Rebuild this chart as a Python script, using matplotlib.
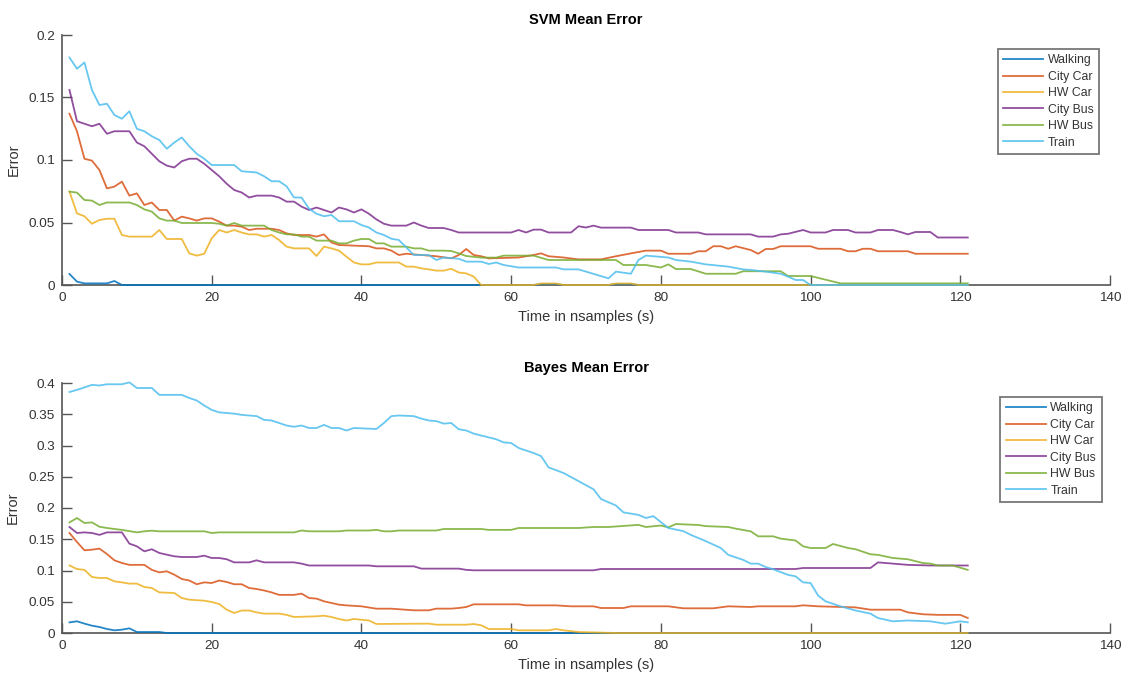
import matplotlib
matplotlib.use("Agg")
import matplotlib.pyplot as plt
from matplotlib.ticker import FuncFormatter, MultipleLocator

plt.rcParams['font.family'] = ['Liberation Sans', 'DejaVu Sans']

labels = ["Walking", "City Car", "HW Car", "City Bus", "HW Bus", "Train"]
colors = ["#0072BD", "#D95319", "#EDB120", "#7E2F8E", "#77AC30", "#4DBEEE"]

# ---------------- SVM mean error (sample index, error) ----------------
svm_walking_x = [1, 2, 3, 6, 7, 8, 63, 64, 66, 67, 73, 74, 76, 77, 121]
svm_walking_y = [0.0088, 0.0027, 0.0013, 0.0013, 0.0032, 0, 0, 0.0008, 0.0008, 0, 0, 0.0008, 0.0008, 0, 0]

svm_citycar_x = [1, 2, 3, 4, 5, 6, 7, 8, 9, 10, 11, 12, 13, 14, 15, 16, 17, 18, 19, 20,
                 21, 22, 23, 24, 25, 26, 28, 29, 30, 31, 33, 34, 35, 36, 37, 41, 42, 43, 44, 45,
                 46, 50, 52, 53, 54, 55, 56, 57, 61, 63, 64, 65, 67, 69, 72, 74, 76, 78, 80, 81,
                 84, 85, 86, 87, 88, 89, 90, 92, 93, 94, 95, 96, 100, 101, 104, 105, 106, 107, 108, 109,
                 113, 114, 121]
svm_citycar_y = [0.137, 0.123, 0.101, 0.0995, 0.092, 0.0773, 0.0787, 0.0827, 0.0715, 0.0733, 0.064, 0.066, 0.060, 0.060, 0.0515, 0.0547, 0.0533, 0.0515, 0.0533, 0.0533,
                 0.0507, 0.0475, 0.0475, 0.0467, 0.044, 0.045, 0.045, 0.044, 0.0413, 0.040, 0.040, 0.0387, 0.0405, 0.034, 0.032, 0.031, 0.0293, 0.0293, 0.0275, 0.024,
                 0.025, 0.023, 0.0213, 0.024, 0.0288, 0.024, 0.023, 0.0213, 0.022, 0.024, 0.0253, 0.023, 0.022, 0.0205, 0.0205, 0.023, 0.0253, 0.0275, 0.0275, 0.025,
                 0.025, 0.027, 0.027, 0.031, 0.031, 0.029, 0.031, 0.028, 0.025, 0.0288, 0.0288, 0.031, 0.031, 0.029, 0.029, 0.027, 0.027, 0.029, 0.029, 0.027,
                 0.027, 0.025, 0.025]

svm_hwcar_x = [1, 2, 3, 4, 5, 6, 7, 8, 9, 12, 13, 14, 16, 17, 18, 19, 20, 21, 22, 23,
               24, 25, 26, 27, 28, 29, 30, 31, 33, 34, 35, 36, 37, 38, 39, 40, 41, 42, 45, 46,
               47, 48, 49, 50, 51, 52, 53, 54, 55, 56, 63, 64, 66, 67, 73, 74, 76, 77, 121]
svm_hwcar_y = [0.0747, 0.0573, 0.055, 0.049, 0.052, 0.053, 0.053, 0.040, 0.0387, 0.0387, 0.044, 0.0368, 0.0368, 0.0253, 0.0235, 0.025, 0.0373, 0.044, 0.042, 0.044,
               0.042, 0.0405, 0.0405, 0.0387, 0.040, 0.036, 0.0307, 0.0293, 0.0293, 0.0232, 0.0307, 0.0293, 0.0275, 0.0227, 0.018, 0.0165, 0.0165, 0.018, 0.018, 0.0147,
               0.0147, 0.0133, 0.0125, 0.0115, 0.0115, 0.013, 0.010, 0.0093, 0.0067, 0, 0, 0.0012, 0.0012, 0, 0, 0.0012, 0.0012, 0, 0]

svm_citybus_x = [1, 2, 3, 4, 5, 6, 7, 9, 10, 11, 12, 13, 14, 15, 16, 17, 18, 19, 20, 21,
                 22, 23, 24, 25, 26, 28, 29, 30, 31, 32, 33, 34, 35, 36, 37, 38, 39, 40, 41, 42,
                 43, 44, 46, 47, 48, 49, 51, 52, 53, 60, 61, 62, 63, 64, 65, 68, 69, 70, 71, 72,
                 76, 77, 81, 82, 85, 86, 92, 93, 95, 96, 97, 99, 100, 102, 103, 105, 106, 108, 109, 111,
                 112, 113, 114, 116, 117, 121]
svm_citybus_y = [0.156, 0.131, 0.129, 0.127, 0.129, 0.121, 0.123, 0.123, 0.114, 0.111, 0.105, 0.099, 0.0955, 0.094, 0.099, 0.101, 0.101, 0.097, 0.092, 0.087,
                 0.081, 0.076, 0.074, 0.070, 0.0715, 0.0715, 0.070, 0.0667, 0.0667, 0.0627, 0.060, 0.062, 0.060, 0.058, 0.062, 0.0605, 0.058, 0.0605, 0.057, 0.0525,
                 0.049, 0.0475, 0.0475, 0.050, 0.0475, 0.0456, 0.0456, 0.044, 0.042, 0.042, 0.044, 0.042, 0.0443, 0.0443, 0.042, 0.042, 0.047, 0.046, 0.0475, 0.0459,
                 0.0459, 0.044, 0.044, 0.042, 0.042, 0.0405, 0.0405, 0.0387, 0.0387, 0.0405, 0.041, 0.044, 0.042, 0.042, 0.044, 0.044, 0.042, 0.042, 0.044, 0.044,
                 0.0424, 0.0405, 0.0424, 0.0424, 0.038, 0.038]

svm_hwbus_x = [1, 2, 3, 4, 5, 6, 9, 10, 11, 12, 13, 14, 15, 16, 20, 21, 22, 23, 24, 27,
               28, 29, 30, 31, 32, 33, 34, 36, 37, 38, 39, 40, 41, 42, 43, 44, 46, 47, 48, 49,
               51, 52, 53, 54, 56, 58, 59, 63, 65, 74, 75, 78, 80, 81, 82, 84, 86, 90, 91, 96,
               97, 100, 104, 121]
svm_hwbus_y = [0.0747, 0.0739, 0.068, 0.0675, 0.064, 0.066, 0.066, 0.064, 0.0605, 0.0587, 0.0533, 0.0515, 0.0515, 0.0496, 0.0496, 0.049, 0.0475, 0.0496, 0.0475, 0.0475,
               0.044, 0.042, 0.0405, 0.0405, 0.0387, 0.0387, 0.0355, 0.0355, 0.0333, 0.0333, 0.0355, 0.0368, 0.0368, 0.0333, 0.0333, 0.0307, 0.0307, 0.0293, 0.0293, 0.0275,
               0.0275, 0.0272, 0.0253, 0.0232, 0.0219, 0.0219, 0.0235, 0.0235, 0.020, 0.020, 0.016, 0.016, 0.014, 0.0165, 0.0128, 0.0128, 0.009, 0.009, 0.011, 0.011,
               0.0072, 0.0072, 0.0013, 0.0013]

svm_train_x = [1, 2, 3, 4, 5, 6, 7, 8, 9, 10, 11, 12, 13, 14, 15, 16, 17, 18, 19, 20,
               23, 24, 26, 27, 28, 29, 30, 31, 32, 33, 34, 35, 36, 37, 39, 40, 41, 42, 43, 44,
               45, 46, 47, 49, 50, 51, 53, 54, 56, 57, 58, 59, 61, 66, 67, 69, 73, 74, 76, 77,
               78, 79, 81, 82, 84, 86, 89, 91, 92, 94, 96, 97, 98, 99, 100, 121]
svm_train_y = [0.182, 0.173, 0.178, 0.156, 0.144, 0.145, 0.136, 0.133, 0.139, 0.125, 0.123, 0.119, 0.116, 0.109, 0.114, 0.118, 0.111, 0.105, 0.101, 0.096,
               0.096, 0.091, 0.090, 0.087, 0.083, 0.083, 0.079, 0.070, 0.070, 0.061, 0.057, 0.055, 0.056, 0.051, 0.051, 0.048, 0.046, 0.042, 0.040, 0.037,
               0.036, 0.030, 0.024, 0.024, 0.020, 0.022, 0.021, 0.0187, 0.0187, 0.0168, 0.018, 0.016, 0.014, 0.014, 0.0125, 0.0125, 0.0053, 0.0107, 0.009, 0.020,
               0.0235, 0.023, 0.022, 0.020, 0.0187, 0.0165, 0.0147, 0.0125, 0.012, 0.0107, 0.009, 0.0067, 0.004, 0.004, 0, 0]

# ---------------- Bayes mean error (sample index, error) ----------------
bayes_walking_x = [1, 2, 3, 4, 5, 6, 7, 8, 9, 10, 13, 14, 121]
bayes_walking_y = [0.017, 0.0187, 0.015, 0.0117, 0.0096, 0.0064, 0.0043, 0.0053, 0.0075, 0.0016, 0.0016, 0, 0]

bayes_citycar_x = [1, 2, 3, 4, 5, 6, 7, 8, 9, 11, 12, 13, 14, 15, 16, 17, 18, 19, 20, 21,
                   22, 23, 24, 25, 26, 27, 28, 29, 31, 32, 33, 34, 35, 36, 37, 38, 40, 42, 44, 47,
                   49, 50, 52, 53, 54, 55, 61, 62, 66, 68, 71, 72, 75, 76, 81, 83, 87, 89, 92, 93,
                   98, 99, 101, 106, 108, 112, 113, 115, 117, 120, 121]
bayes_citycar_y = [0.160, 0.1456, 0.1323, 0.1333, 0.135, 0.1264, 0.1163, 0.112, 0.109, 0.109, 0.101, 0.097, 0.0987, 0.0933, 0.0864, 0.084, 0.078, 0.081, 0.080, 0.084,
                   0.0816, 0.078, 0.078, 0.072, 0.0704, 0.068, 0.065, 0.061, 0.061, 0.063, 0.056, 0.055, 0.0507, 0.048, 0.0453, 0.0442, 0.0427, 0.0389, 0.0389, 0.0363,
                   0.0363, 0.039, 0.039, 0.040, 0.0416, 0.0459, 0.0459, 0.0442, 0.0442, 0.0427, 0.0427, 0.040, 0.040, 0.0427, 0.0427, 0.0395, 0.0395, 0.0427, 0.0416, 0.0427,
                   0.0427, 0.0443, 0.0427, 0.041, 0.0373, 0.0373, 0.033, 0.030, 0.029, 0.029, 0.024]

bayes_hwcar_x = [1, 2, 3, 4, 5, 6, 7, 8, 9, 10, 11, 12, 13, 15, 16, 17, 19, 20, 21, 22,
                 23, 24, 25, 26, 27, 29, 30, 31, 34, 35, 36, 37, 38, 39, 41, 42, 49, 50, 54, 55,
                 56, 57, 60, 61, 65, 66, 67, 69, 74, 121]
bayes_hwcar_y = [0.108, 0.1024, 0.101, 0.0896, 0.088, 0.088, 0.0827, 0.081, 0.079, 0.079, 0.0736, 0.072, 0.065, 0.064, 0.056, 0.0533, 0.0517, 0.0496, 0.0464, 0.0373,
                 0.032, 0.036, 0.036, 0.033, 0.031, 0.031, 0.029, 0.0256, 0.0267, 0.0277, 0.0256, 0.0224, 0.020, 0.0224, 0.020, 0.0144, 0.015, 0.0133, 0.0133, 0.0144,
                 0.0123, 0.0064, 0.0064, 0.0043, 0.0043, 0.0064, 0.0043, 0.0016, 0, 0]

bayes_citybus_x = [1, 2, 3, 4, 5, 6, 8, 9, 10, 11, 12, 13, 14, 15, 16, 18, 19, 20, 21, 22,
                   23, 25, 26, 27, 31, 32, 33, 41, 42, 47, 48, 53, 54, 55, 71, 72, 98, 99, 108, 109,
                   110, 113, 116, 121]
bayes_citybus_y = [0.1696, 0.160, 0.161, 0.160, 0.157, 0.161, 0.161, 0.143, 0.1387, 0.1307, 0.134, 0.128, 0.1253, 0.1227, 0.1216, 0.1216, 0.1237, 0.120, 0.120, 0.118,
                   0.113, 0.113, 0.1163, 0.113, 0.113, 0.111, 0.108, 0.108, 0.1067, 0.1067, 0.103, 0.103, 0.101, 0.1003, 0.1003, 0.1024, 0.1024, 0.104, 0.104, 0.113,
                   0.112, 0.109, 0.108, 0.108]

bayes_hwbus_x = [1, 2, 3, 4, 5, 6, 7, 8, 9, 10, 11, 12, 13, 19, 20, 21, 31, 32, 33, 37,
                 38, 41, 42, 43, 44, 45, 50, 51, 56, 57, 60, 61, 69, 71, 73, 77, 78, 80, 81, 82,
                 85, 86, 89, 90, 92, 93, 95, 96, 98, 99, 100, 102, 103, 105, 106, 108, 109, 111, 113, 115,
                 116, 117, 119, 121]
bayes_hwbus_y = [0.177, 0.184, 0.176, 0.177, 0.170, 0.168, 0.1664, 0.165, 0.163, 0.161, 0.1627, 0.1637, 0.1627, 0.1627, 0.160, 0.161, 0.161, 0.164, 0.1627, 0.1627,
                 0.164, 0.164, 0.165, 0.1627, 0.1627, 0.164, 0.164, 0.1664, 0.1664, 0.165, 0.165, 0.168, 0.168, 0.1696, 0.1696, 0.173, 0.1696, 0.172, 0.169, 0.1744,
                 0.1728, 0.171, 0.1696, 0.167, 0.1627, 0.1547, 0.1547, 0.151, 0.148, 0.1387, 0.136, 0.136, 0.1424, 0.136, 0.134, 0.126, 0.125, 0.120, 0.118, 0.112,
                 0.111, 0.108, 0.108, 0.101]

bayes_train_x = [1, 2, 3, 4, 5, 6, 8, 9, 10, 12, 13, 16, 17, 18, 19, 20, 21, 23, 24, 26,
                 27, 28, 29, 30, 31, 32, 33, 34, 35, 36, 37, 38, 39, 42, 43, 44, 45, 47, 48, 49,
                 50, 51, 52, 53, 54, 55, 56, 57, 58, 59, 60, 61, 62, 63, 64, 65, 67, 69, 71, 72,
                 74, 75, 77, 78, 79, 81, 83, 84, 86, 88, 89, 91, 92, 93, 94, 95, 97, 98, 99, 100,
                 101, 102, 104, 106, 108, 109, 111, 113, 116, 118, 120, 121]
bayes_train_y = [0.3856, 0.389, 0.393, 0.397, 0.396, 0.398, 0.398, 0.401, 0.392, 0.392, 0.381, 0.381, 0.376, 0.372, 0.364, 0.357, 0.353, 0.351, 0.349, 0.347,
                 0.341, 0.340, 0.336, 0.332, 0.330, 0.332, 0.328, 0.328, 0.333, 0.328, 0.328, 0.324, 0.328, 0.3264, 0.336, 0.347, 0.348, 0.347, 0.343, 0.340,
                 0.339, 0.335, 0.336, 0.326, 0.324, 0.319, 0.316, 0.313, 0.310, 0.305, 0.304, 0.296, 0.292, 0.288, 0.283, 0.265, 0.256, 0.243, 0.230, 0.2144,
                 0.204, 0.193, 0.189, 0.184, 0.187, 0.168, 0.163, 0.157, 0.147, 0.136, 0.125, 0.117, 0.111, 0.111, 0.1056, 0.102, 0.093, 0.0907, 0.081, 0.080,
                 0.060, 0.0507, 0.0427, 0.036, 0.031, 0.024, 0.0187, 0.020, 0.0187, 0.0149, 0.0187, 0.017]

svm_series = [(svm_walking_x, svm_walking_y), (svm_citycar_x, svm_citycar_y),
              (svm_hwcar_x, svm_hwcar_y), (svm_citybus_x, svm_citybus_y),
              (svm_hwbus_x, svm_hwbus_y), (svm_train_x, svm_train_y)]
bayes_series = [(bayes_walking_x, bayes_walking_y), (bayes_citycar_x, bayes_citycar_y),
                (bayes_hwcar_x, bayes_hwcar_y), (bayes_citybus_x, bayes_citybus_y),
                (bayes_hwbus_x, bayes_hwbus_y), (bayes_train_x, bayes_train_y)]

xticks = [0, 20, 40, 60, 80, 100, 120, 140]

fig = plt.figure(figsize=(11.23, 6.77), dpi=100)
ax_top = fig.add_axes([62 / 1123, 1 - 285 / 677, 1048 / 1123, 250 / 677])
ax_bot = fig.add_axes([62 / 1123, 1 - 633 / 677, 1048 / 1123, 250 / 677])

axis_grey = "#555555"
text_grey = "#333333"


def style_axes(ax, series, title, ymax, ystep, legend_anchor):
    for (x, y), lab, col in zip(series, labels, colors):
        ax.plot(x, y, color=col, lw=1.3, alpha=0.85, label=lab,
                clip_on=False, zorder=3, solid_joinstyle="round")
    ax.set_xlim(0, 140)
    ax.set_ylim(0, ymax)
    ax.set_xticks(xticks)
    ax.yaxis.set_major_locator(MultipleLocator(ystep))
    ax.yaxis.set_major_formatter(FuncFormatter(lambda v, p: "%g" % round(v, 4)))
    for side in ("top", "right"):
        ax.spines[side].set_visible(False)
    for side in ("left", "bottom"):
        ax.spines[side].set_color(axis_grey)
        ax.spines[side].set_linewidth(1.2)
        ax.spines[side].set_zorder(1)
    ax.tick_params(direction="in", length=7.5, width=1.0, color=axis_grey,
                   labelsize=9.7, labelcolor=text_grey, pad=5)
    ax.set_title(title, fontsize=10.5, fontweight="bold", color="black", pad=8)
    ax.set_xlabel("Time in nsamples (s)", fontsize=10.5, color=text_grey, labelpad=4)
    ax.set_ylabel("Error", fontsize=10.5, color=text_grey, labelpad=6)
    leg = ax.legend(loc="upper right", bbox_to_anchor=legend_anchor, fontsize=8.8,
                    frameon=True, fancybox=False, framealpha=1, edgecolor="#777777",
                    handlelength=3.3, handletextpad=0.35, labelspacing=0.36,
                    borderpad=0.45, borderaxespad=0)
    leg.get_frame().set_linewidth(1.3)
    for t in leg.get_texts():
        t.set_color(text_grey)


style_axes(ax_top, svm_series, "SVM Mean Error", 0.2, 0.05, (0.9895, 0.944))
style_axes(ax_bot, bayes_series, "Bayes Mean Error", 0.4, 0.05, (0.992, 0.944))

fig.savefig("out.png", dpi=100, facecolor="white")
